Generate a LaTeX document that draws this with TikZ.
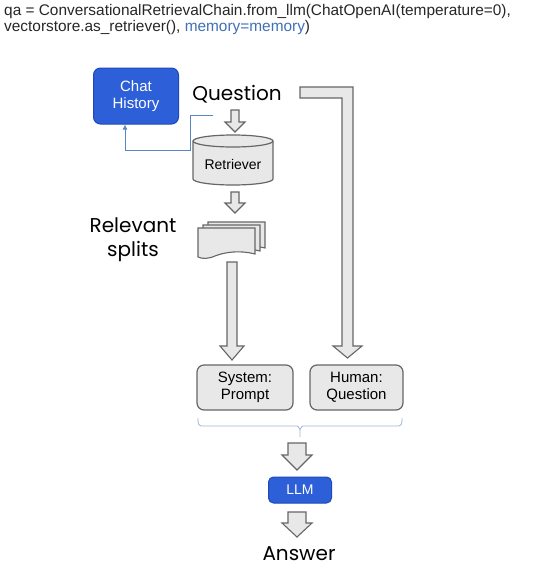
\documentclass[tikz,border=0pt]{standalone}
\usepackage{fontspec}
\setmainfont{Liberation Sans}
\newfontfamily\popfont{Poppins}
\usetikzlibrary{arrows.meta}
\definecolor{chatblue}{HTML}{2D5FD8}
\definecolor{chatblueedge}{HTML}{1F48B8}
\definecolor{boxgray}{HTML}{E8E8E8}
\definecolor{edgegray}{HTML}{666666}
\definecolor{codeblue}{HTML}{3F6FB5}
\definecolor{linkblue}{HTML}{5A86C4}
\definecolor{bracecol}{HTML}{9FB6D3}
\tikzset{
  bluebox/.style={draw=chatblueedge, line width=1pt, fill=chatblue, rounded corners=7pt, text=white, align=center, inner sep=0pt},
  graybox/.style={draw=edgegray, line width=1.2pt, fill=boxgray, rounded corners=7pt, align=center, inner sep=0pt},
  hollow/.style={draw=edgegray, line width=1.1pt, fill=boxgray, line join=miter},
  biglabel/.style={font=\popfont\fontsize{20}{24}\selectfont, align=center, inner sep=0pt},
  codetext/.style={anchor=west, inner sep=0pt, font=\fontsize{15.4}{17}\selectfont, text=black!85},
}
\begin{document}
\begin{tikzpicture}[x=1pt,y=-1pt]
\useasboundingbox (0,0) rectangle (536,570);
% code
\node[codetext] (code1) at (4,12) {qa = ConversationalRetrievalChain.from\_llm(ChatOpenAI(temperature=0),};
\node[codetext] (code2) at (4,28) {vectorstore.as\_retriever(), \textcolor{codeblue}{memory=memory})};
% chat history
\node[bluebox, minimum width=85pt, minimum height=56pt, font=\fontsize{15}{17}\selectfont] (chat) at (136,96) {Chat\\History};
% question
\node[biglabel] (question) at (237,94) {Question};
% retriever cylinder (x 193..273, top ellipse center y 141, bottom 179, ry 6)
\draw[edgegray, line width=1.2pt, fill=boxgray]
  (193,141) -- (193,179)
  .. controls (193,182.3) and (210.9,185) .. (233,185)
  .. controls (255.1,185) and (273,182.3) .. (273,179)
  -- (273,141)
  .. controls (273,137.7) and (255.1,135) .. (233,135)
  .. controls (210.9,135) and (193,137.7) .. (193,141) -- cycle;
\draw[edgegray, line width=1.2pt]
  (193,141) .. controls (193,144.3) and (210.9,147) .. (233,147)
  .. controls (255.1,147) and (273,144.3) .. (273,141);
\node[inner sep=0pt, font=\fontsize{14}{16}\selectfont] (retriever) at (233,164) {Retriever};
% link to chat history
\coordinate (linkstart) at (213,115);
\coordinate (cx) at (125,0);
\draw[linkblue, line width=0.8pt, -{Latex[length=5pt,width=5pt]}] (linkstart) -- (190,115) -- (190,150) -- (125,150) -- (cx |- chat.south);
% small arrow question -> retriever
\draw[hollow] (231,110) -- (239,110) -- (239,122) -- (245,122) -- (235,132) -- (225,122) -- (231,122) -- cycle;
% small arrow retriever -> splits
\draw[hollow] (231,192) -- (239,192) -- (239,203) -- (245,203) -- (235,213) -- (225,203) -- (231,203) -- cycle;
% relevant splits
\node[biglabel] (splits) at (133,240) {Relevant\\splits};
% doc stack
\foreach \dx/\dy in {10/-6,5/-3,0/0}{
  \draw[edgegray, line width=1.1pt, fill=boxgray] (198+\dx,228+\dy) -- (255+\dx,228+\dy) -- (255+\dx,254+\dy)
    .. controls (240+\dx,250+\dy) and (225+\dx,252+\dy) .. (215+\dx,256+\dy)
    .. controls (208+\dx,259+\dy) and (202+\dx,259+\dy) .. (198+\dx,257+\dy) -- cycle;
}
\coordinate (docs) at (226,242);
% boxes
\node[graybox, minimum width=96pt, minimum height=45pt, font=\fontsize{15}{17}\selectfont] (system) at (245,387.5) {System:\\Prompt};
\node[graybox, minimum width=93pt, minimum height=45pt, font=\fontsize{15}{17}\selectfont] (human) at (356.5,387.5) {Human:\\Question};
% long arrow splits -> system
\draw[hollow] (227,262) -- (237,262) -- (237,346) -- (244,346) -- (232,360) -- (220,346) -- (227,346) -- cycle;
% L arrow question -> human
\draw[hollow] (300,87) -- (353,87) -- (353,346) -- (362,346) -- (347.5,358) -- (333,346) -- (342,346) -- (342,98) -- (300,98) -- cycle;
% brace
\draw[bracecol, line width=0.8pt] (198,418) -- (198,421) to[out=-90,in=180] (201,426) -- (297,426) to[out=0,in=-90] (300,429) -- (300,437);
\draw[bracecol, line width=0.8pt] (402,418) -- (402,421) to[out=-90,in=0] (399,426) -- (303,426) to[out=180,in=-90] (300,429);
% arrow to llm
\draw[hollow] (288,443) -- (306,443) -- (306,455) -- (312,455) -- (297,470) -- (282,455) -- (288,455) -- cycle;
\node[bluebox, rounded corners=5pt, minimum width=63pt, minimum height=26pt, font=\fontsize{14}{16}\selectfont] (llm) at (300,490) {LLM};
\draw[hollow] (288,512) -- (306,512) -- (306,523) -- (312,523) -- (297,537) -- (282,523) -- (288,523) -- cycle;
\node[biglabel] (answer) at (299,554) {Answer};
\end{tikzpicture}
\end{document}
